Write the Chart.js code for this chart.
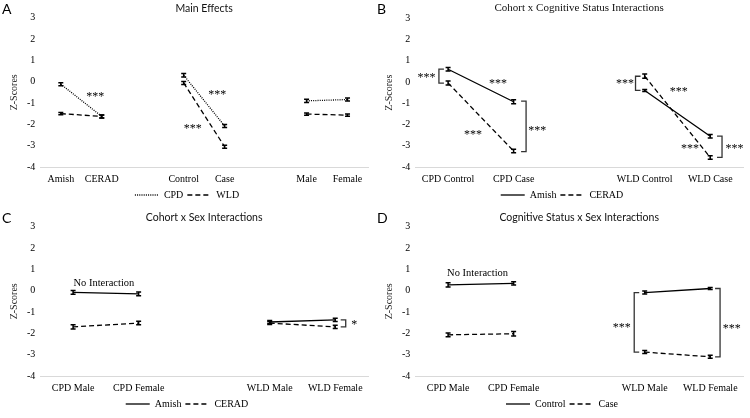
<!DOCTYPE html>
<html>
<head>
<meta charset="utf-8">
<script src="https://cdn.jsdelivr.net/npm/chart.js@4.4.0/dist/chart.umd.min.js"></script>
<style>
  body { margin: 0; background: #fff; }
  #grid { display: grid; grid-template-columns: 375px 375px; grid-template-rows: 209px 209px; width: 750px; height: 418px; }
  canvas { display: block; }
</style>
</head>
<body>
<div id="grid">
  <canvas id="chartA" width="375" height="209"></canvas>
  <canvas id="chartB" width="375" height="209"></canvas>
  <canvas id="chartC" width="375" height="209"></canvas>
  <canvas id="chartD" width="375" height="209"></canvas>
</div>
<script>
// ---- data ----
const yTicks = [3, 2, 1, 0, -1, -2, -3, -4];

// A: main effects
const aLabels = ['Amish', 'CERAD', '', 'Control', 'Case', '', 'Male', 'Female'];
const aCPD = [-0.12, -1.63, null, 0.3, -2.08, null, -0.9, -0.84];
const aCPDErr = [0.07, 0.07, null, 0.08, 0.07, null, 0.08, 0.07];
const aWLD = [-1.5, -1.63, null, -0.06, -3.05, null, -1.52, -1.57];
const aWLDErr = [0.05, 0.07, null, 0.07, 0.07, null, 0.05, 0.05];

// B: cohort x cognitive status
const bLabels = ['CPD Control', 'CPD Case', '', 'WLD Control', 'WLD Case'];
const bAmish = [0.6, -0.93, null, -0.4, -2.55];
const bAmishErr = [0.08, 0.09, null, 0.05, 0.08];
const bCERAD = [-0.05, -3.25, null, 0.27, -3.55];
const bCERADErr = [0.09, 0.08, null, 0.1, 0.08];

// C: cohort x sex
const cLabels = ['CPD Male', 'CPD Female', '', 'WLD Male', 'WLD Female'];
const cAmish = [-0.08, -0.15, null, -1.47, -1.37];
const cAmishErr = [0.09, 0.09, null, 0.07, 0.08];
const cCERAD = [-1.7, -1.52, null, -1.52, -1.7];
const cCERADErr = [0.1, 0.08, null, 0.07, 0.08];

// D: cognitive status x sex
const dLabels = ['CPD Male', 'CPD Female', '', 'WLD Male', 'WLD Female'];
const dControl = [0.27, 0.34, null, -0.09, 0.1];
const dControlErr = [0.1, 0.08, null, 0.07, 0.05];
const dCase = [-2.07, -2.02, null, -2.88, -3.1];
const dCaseErr = [0.09, 0.1, null, 0.07, 0.07];

// annotations (x = category index, y = z-score)
const aNotes = [
  { x: 0.84, y: -0.63, text: '***' },
  { x: 3.82, y: -0.52, text: '***' },
  { x: 3.22, y: -2.1, text: '***' }
];
const bNotes = [
  { x: -0.33, y: 0.27, text: '***' },
  { x: 0.76, y: 0.0, text: '***' },
  { x: 0.38, y: -2.37, text: '***' },
  { x: 1.36, y: -2.19, text: '***' },
  { x: 2.7, y: 0.0, text: '***' },
  { x: 3.52, y: -0.39, text: '***' },
  { x: 3.69, y: -3.05, text: '***' },
  { x: 4.37, y: -3.05, text: '***' }
];
const bBrackets = [
  { x: -0.14, y1: 0.6, y2: -0.05, dir: 1 },
  { x: 1.19, y1: -0.9, y2: -3.28, dir: -1 },
  { x: 2.86, y1: 0.27, y2: -0.4, dir: 1 },
  { x: 4.18, y1: -2.55, y2: -3.55, dir: -1 }
];
const cNotes = [
  { x: 0.47, y: 0.33, text: 'No Interaction' },
  { x: 4.29, y: -1.5, text: '*' }
];
const cBrackets = [
  { x: 4.16, y1: -1.37, y2: -1.7, dir: -1 }
];
const dNotes = [
  { x: 0.45, y: 0.81, text: 'No Interaction' },
  { x: 2.65, y: -1.63, text: '***' },
  { x: 4.33, y: -1.68, text: '***' }
];
const dBrackets = [
  { x: 2.84, y1: -0.09, y2: -2.88, dir: 1 },
  { x: 4.15, y1: 0.1, y2: -3.1, dir: -1 }
];

const SERIF = '"Liberation Serif", "Times New Roman", serif';
const SANS = 'Lato, "Open Sans", sans-serif';

const DOTTED = [1, 1.2];
const DASHED = [5, 3];
const SOLID = [];

function makePanel(id, letter, title, titleFont, labels, series, notes, brackets) {
  const panelMarks = {
    id: 'panelMarks',
    afterDatasetsDraw(chart) {
      const ctx = chart.ctx;
      const xs = chart.scales.x, ys = chart.scales.y;
      ctx.save();
      ctx.strokeStyle = '#000';
      ctx.setLineDash([]);
      // error bars
      chart.data.datasets.forEach((ds, di) => {
        const meta = chart.getDatasetMeta(di);
        ds.data.forEach((v, i) => {
          if (v === null) return;
          const px = meta.data[i].x;
          const e = ds.errors[i];
          const top = ys.getPixelForValue(v + e);
          const bot = ys.getPixelForValue(v - e);
          ctx.lineWidth = 1.5;
          ctx.beginPath();
          ctx.moveTo(px, top); ctx.lineTo(px, bot);
          ctx.moveTo(px - 2.5, top); ctx.lineTo(px + 2.5, top);
          ctx.moveTo(px - 2.5, bot); ctx.lineTo(px + 2.5, bot);
          ctx.stroke();
        });
      });
      // brackets
      ctx.lineWidth = 1.3;
      ctx.strokeStyle = '#333';
      (brackets || []).forEach(b => {
        const bx = xs.getPixelForValue(b.x);
        const y1 = ys.getPixelForValue(b.y1), y2 = ys.getPixelForValue(b.y2);
        ctx.beginPath();
        ctx.moveTo(bx + 5 * b.dir, y1);
        ctx.lineTo(bx, y1);
        ctx.lineTo(bx, y2);
        ctx.lineTo(bx + 5 * b.dir, y2);
        ctx.stroke();
      });
      // text notes
      ctx.fillStyle = '#000';
      ctx.textAlign = 'center';
      ctx.textBaseline = 'middle';
      notes.forEach(n => {
        const stars = n.text.startsWith('*');
        ctx.font = (stars ? '12px ' : '10.5px ') + SERIF;
        ctx.fillText(n.text, xs.getPixelForValue(n.x), ys.getPixelForValue(n.y) + (stars ? 2 : 0));
      });
      // panel letter
      ctx.font = '14px ' + SANS;
      ctx.textAlign = 'left';
      ctx.textBaseline = 'top';
      ctx.fillText(letter, 2, 2);
      ctx.restore();
    }
  };

  return new Chart(document.getElementById(id), {
    type: 'line',
    data: {
      labels: labels,
      datasets: series.map(s => ({
        label: s.label,
        data: s.data,
        errors: s.err,
        borderColor: '#000',
        backgroundColor: '#000',
        borderWidth: 1.3,
        borderDash: s.dash,
        pointRadius: 0,
        spanGaps: false,
        fill: false,
        tension: 0
      }))
    },
    options: {
      responsive: false,
      animation: false,
      layout: { padding: { left: 6, right: 7, top: 0, bottom: 5 } },
      plugins: {
        title: {
          display: true,
          fullSize: false,
          text: title,
          color: '#111',
          font: titleFont,
          padding: { top: 2, bottom: 3 }
        },
        legend: {
          position: 'bottom',
          maxHeight: 18,
          labels: {
            usePointStyle: true,
            pointStyle: 'line',
            pointStyleWidth: 24,
            boxHeight: 8,
            color: '#000',
            padding: 4,
            font: { family: SERIF, size: 10 },
            generateLabels: chart => Chart.defaults.plugins.legend.labels.generateLabels(chart)
              .map((item, i) => Object.assign(item, {
                lineDash: chart.data.datasets[i].borderDash,
                lineWidth: 1.3,
                strokeStyle: '#000'
              }))
          }
        },
        tooltip: { enabled: false }
      },
      scales: {
        x: {
          offset: true,
          afterFit: scale => { scale.height = 19; },
          grid: { display: false, drawTicks: false },
          border: { display: true, color: '#d9d9d9', width: 1 },
          ticks: { color: '#000', autoSkip: false, maxRotation: 0, padding: 6, font: { family: SERIF, size: 10 } }
        },
        y: {
          min: -4,
          max: 3,
          afterBuildTicks: axis => { axis.ticks = yTicks.map(v => ({ value: v })); },
          grid: { display: false, drawTicks: false },
          border: { display: false },
          ticks: { color: '#000', padding: 5, font: { family: SERIF, size: 10 } },
          title: { display: true, text: 'Z-Scores', color: '#222', padding: 2, font: { family: SERIF, size: 10 } }
        }
      }
    },
    plugins: [panelMarks]
  });
}

const sansTitle = { family: SANS, size: 10.5, weight: 'normal' };
const serifTitle = { family: SERIF, size: 11, weight: 'normal' };

makePanel('chartA', 'A', 'Main Effects', sansTitle, aLabels, [
  { label: 'CPD', data: aCPD, err: aCPDErr, dash: DOTTED },
  { label: 'WLD', data: aWLD, err: aWLDErr, dash: DASHED }
], aNotes, []);

makePanel('chartB', 'B', 'Cohort x Cognitive Status Interactions', serifTitle, bLabels, [
  { label: 'Amish', data: bAmish, err: bAmishErr, dash: SOLID },
  { label: 'CERAD', data: bCERAD, err: bCERADErr, dash: DASHED }
], bNotes, bBrackets);

makePanel('chartC', 'C', 'Cohort x Sex Interactions', sansTitle, cLabels, [
  { label: 'Amish', data: cAmish, err: cAmishErr, dash: SOLID },
  { label: 'CERAD', data: cCERAD, err: cCERADErr, dash: DASHED }
], cNotes, cBrackets);

makePanel('chartD', 'D', 'Cognitive Status x Sex Interactions', sansTitle, dLabels, [
  { label: 'Control', data: dControl, err: dControlErr, dash: SOLID },
  { label: 'Case', data: dCase, err: dCaseErr, dash: DASHED }
], dNotes, dBrackets);
</script>
</body>
</html>
